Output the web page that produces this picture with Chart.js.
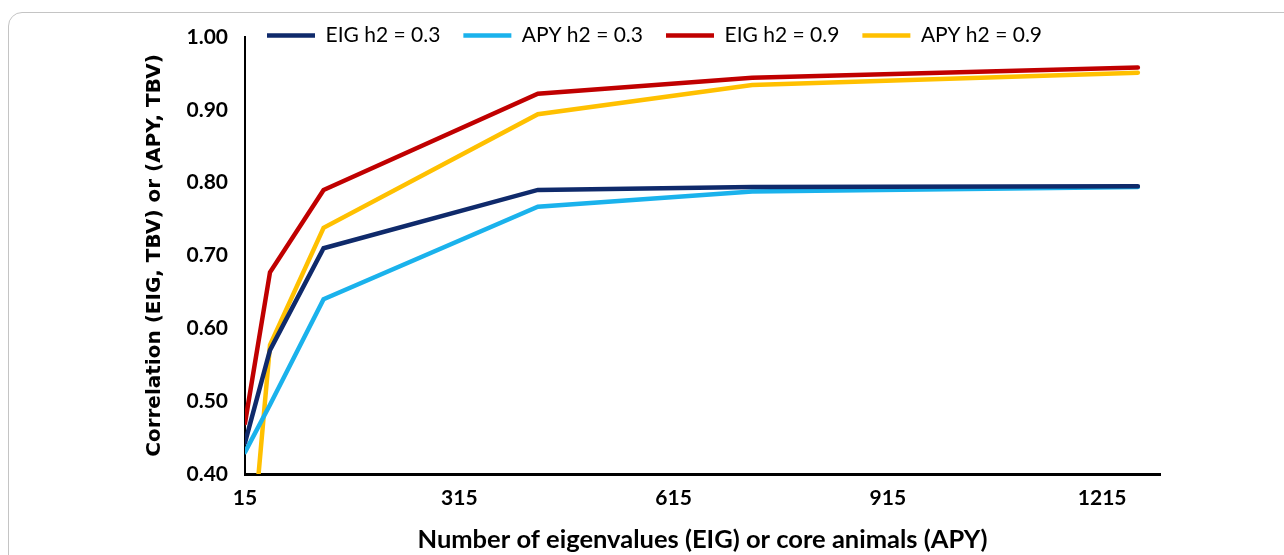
<!DOCTYPE html>
<html>
<head>
<meta charset="utf-8">
<script src="https://cdn.jsdelivr.net/npm/chart.js@4"></script>
<style>
  body { margin: 0; background: #fff; overflow: hidden; }
  .frame {
    position: absolute; left: 8px; top: 12px; width: 1320px; height: 600px;
    border: 1px solid #c4c4c4; border-radius: 14px;
  }
  .wrap { position: absolute; left: 0; top: 0; width: 1284px; height: 555px; }
</style>
</head>
<body>
<div class="frame"></div>
<div class="wrap"><canvas id="chart"></canvas></div>
<script>
// number of eigenvalues / core animals
const xValues = [15, 50, 125, 425, 725, 1265];
const xTicks = [15, 315, 615, 915, 1215];

const eigH03 = [0.443, 0.570, 0.710, 0.790, 0.794, 0.795];
const apyH03 = [0.430, 0.495, 0.640, 0.767, 0.788, 0.794];
const eigH09 = [0.470, 0.677, 0.790, 0.922, 0.944, 0.958];
const apyH09 = [0.190, 0.577, 0.738, 0.894, 0.934, 0.951];

const COLORS = {
  eig03: "#0f2a6b",
  apy03: "#1ab2ec",
  eig09: "#c00000",
  apy09: "#ffc000"
};

function series(label, values, color) {
  return {
    label,
    data: values.map((y, i) => ({ x: xValues[i], y })),
    borderColor: color,
    backgroundColor: color,
    borderWidth: 4.5,
    pointRadius: 0,
    tension: 0,
    borderCapStyle: "round"
  };
}

// legend row sits over the plot, level with the top tick
const legendShift = {
  id: "legendShift",
  afterLayout(chart) {
    const lg = chart.legend;
    lg.left += 244;
    lg.top += 2;
    lg.bottom += 32;
  }
};

new Chart(document.getElementById("chart"), {
  type: "line",
  data: {
    datasets: [
      series("EIG h2 = 0.3", eigH03, COLORS.eig03),
      series("APY h2 = 0.3", apyH03, COLORS.apy03),
      series("EIG h2 = 0.9", eigH09, COLORS.eig09),
      series("APY h2 = 0.9", apyH09, COLORS.apy09)
    ]
  },
  options: {
    animation: false,
    responsive: true,
    maintainAspectRatio: false,
    layout: { padding: { left: 0, right: 124, top: 0, bottom: 0 } },
    scales: {
      x: {
        type: "linear",
        min: 15,
        max: 1296,
        grid: { display: false },
        border: { color: "#000", width: 3 },
        afterBuildTicks: s => { s.ticks = xTicks.map(v => ({ value: v })); },
        afterFit: s => { s.height = 81; },
        ticks: {
          color: "#000",
          padding: 4,
          maxRotation: 0,
          font: { family: "Lato", size: 21, weight: "bold" },
          callback: v => String(v)
        },
        title: {
          display: true,
          text: "Number of eigenvalues (EIG) or core animals (APY)",
          color: "#000",
          padding: { top: 0, bottom: 0 },
          font: { family: "Lato", size: 25.5, weight: "bold" }
        }
      },
      y: {
        min: 0.4,
        max: 1.0,
        grid: { display: false },
        border: { color: "#000", width: 2 },
        afterFit: s => { s.width = 245; },
        ticks: {
          stepSize: 0.1,
          color: "#000",
          padding: 9,
          font: { family: "Lato", size: 21, weight: "bold" },
          callback: v => v.toFixed(2)
        },
        title: {
          display: true,
          text: "Correlation (EIG, TBV) or (APY, TBV)",
          color: "#000",
          padding: { top: 143, bottom: 0 },
          font: { family: "DejaVu Sans", size: 20, weight: "bold" }
        }
      }
    },
    plugins: {
      legend: {
        position: "top",
        align: "start",
        maxHeight: 37,
        labels: {
          color: "#000",
          padding: 23,
          usePointStyle: true,
          pointStyle: "line",
          pointStyleWidth: 48,
          font: { family: "Lato", size: 21 }
        }
      },
      tooltip: { enabled: false }
    }
  },
  plugins: [legendShift]
});
</script>
</body>
</html>
